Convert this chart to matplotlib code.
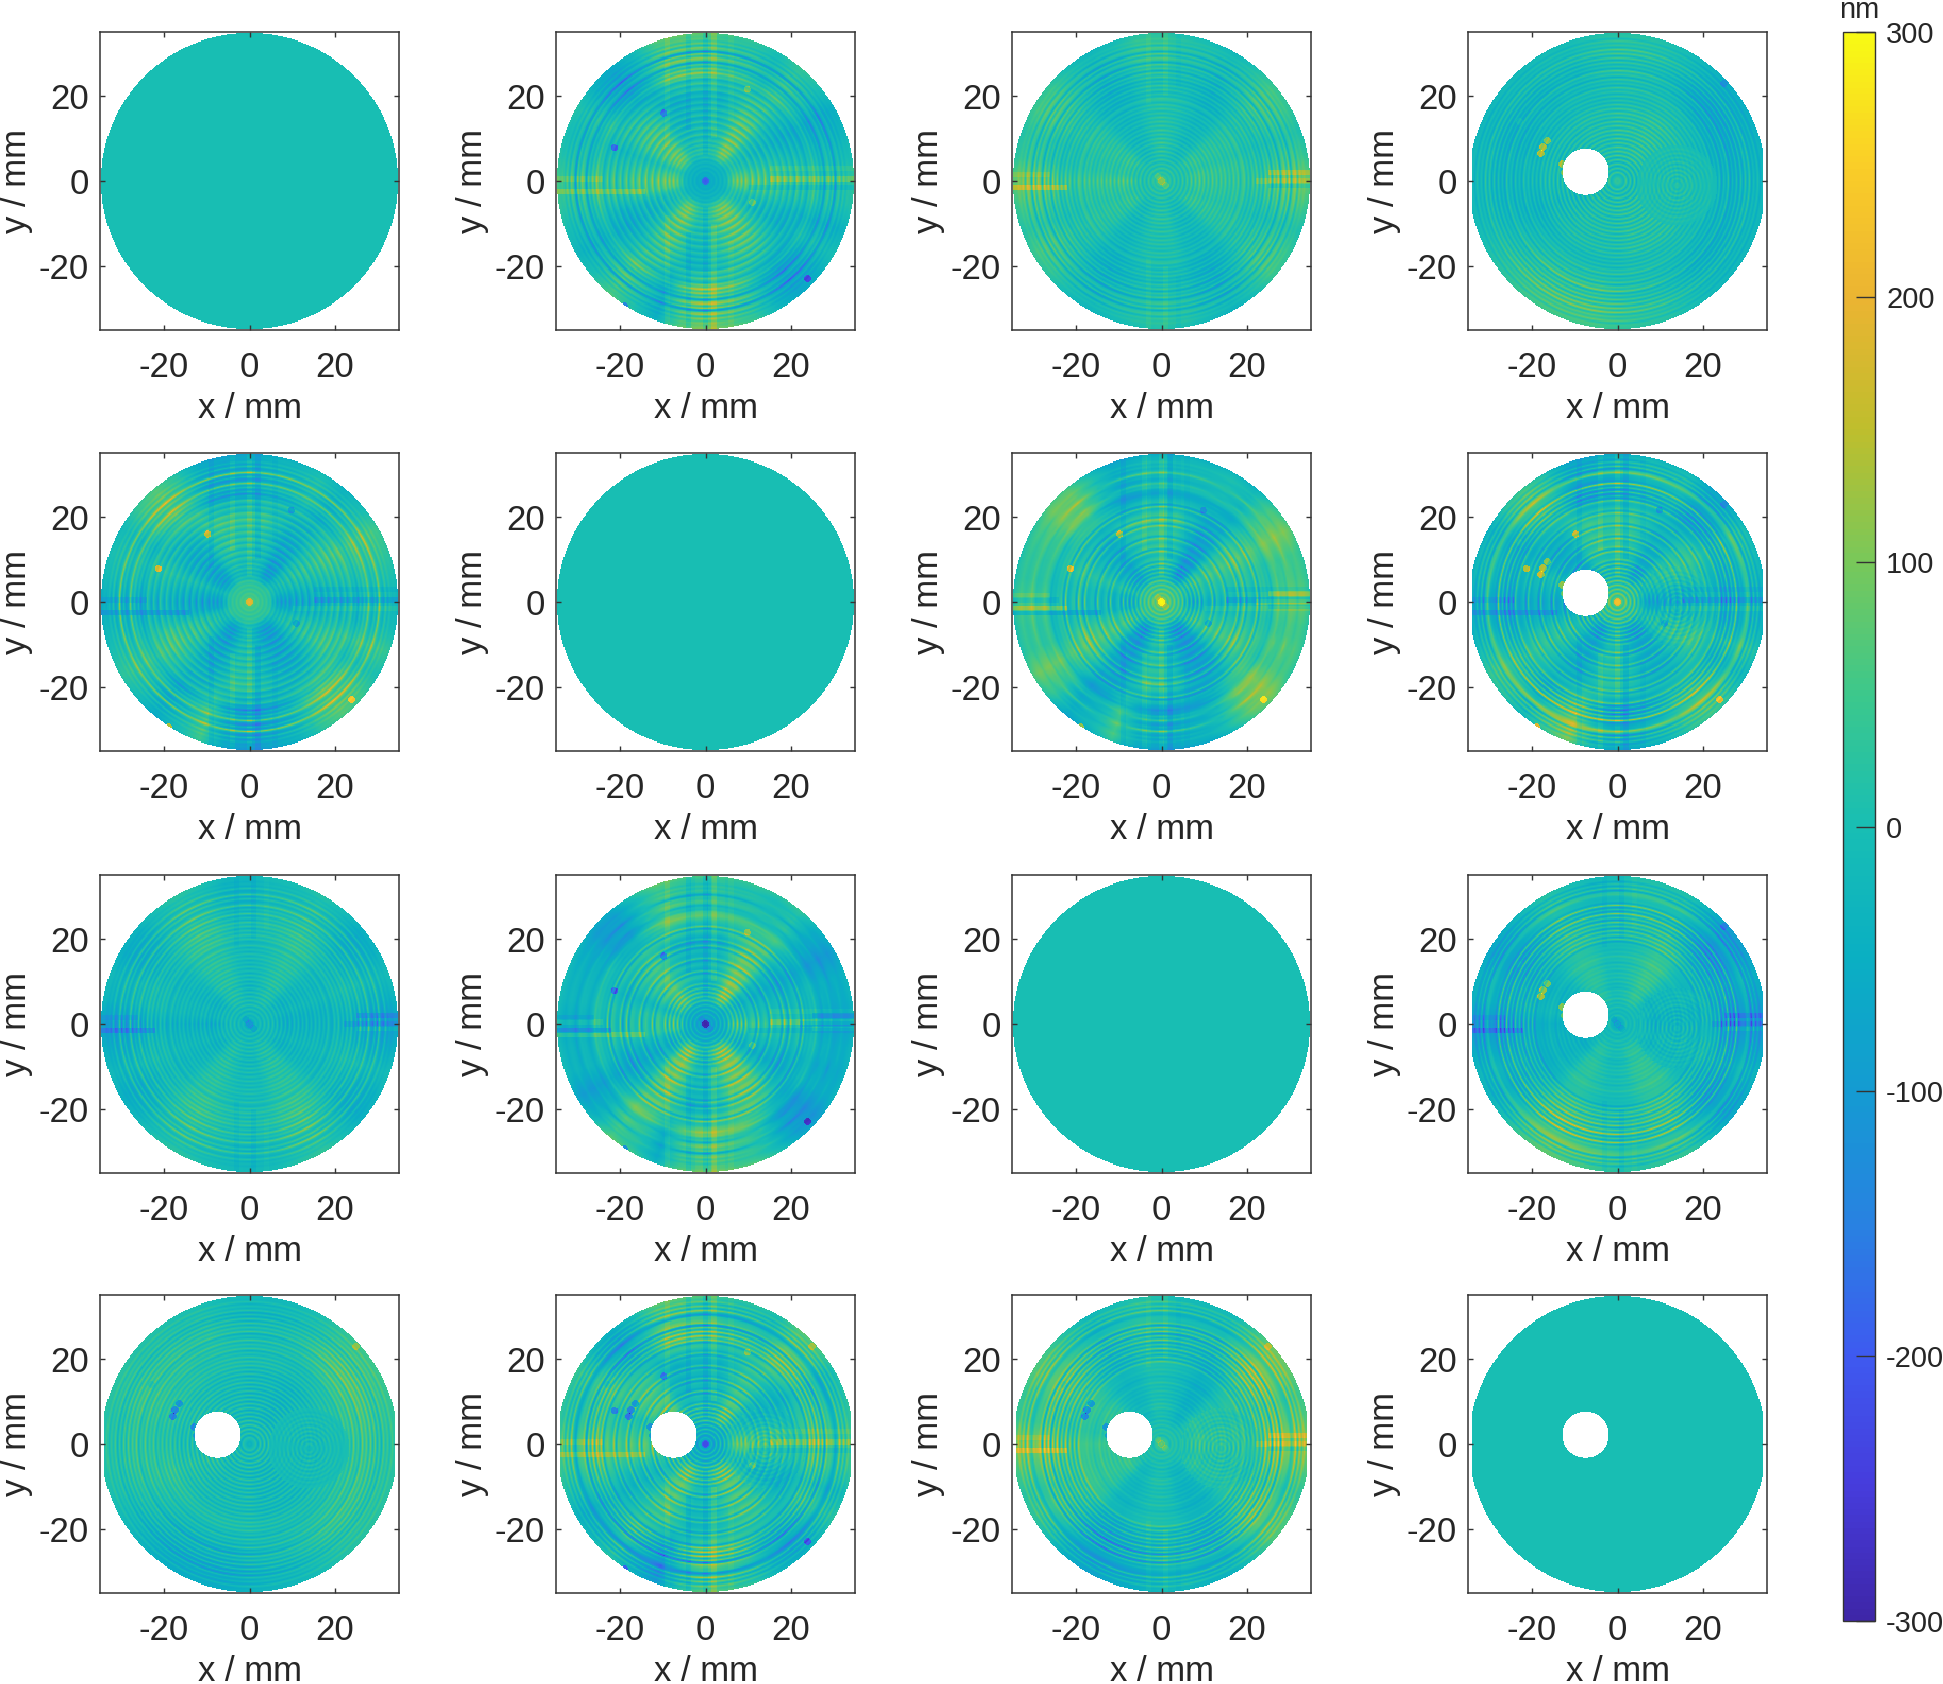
import numpy as np
import matplotlib
matplotlib.use("Agg")
import matplotlib.pyplot as plt
from matplotlib.colors import LinearSegmentedColormap

plt.rcParams['font.family'] = ['Liberation Sans', 'DejaVu Sans']
plt.rcParams['axes.unicode_minus'] = False

W, H = 1943, 1684

# colour table
CBAR_COLORS = [(62, 38, 168), (70, 60, 220), (62, 90, 240), (40, 130, 225), (20, 155, 210),
               (10, 175, 195), (24, 190, 180), (60, 200, 140), (120, 200, 90), (190, 190, 45),
               (235, 180, 50), (250, 205, 40), (248, 250, 20)]

TICKS = [-20, 0, 20]
CBAR_TICKS = [-300, -200, -100, 0, 100, 200, 300]

# radial profiles in nm, r = 0 ... 35 mm
RING_2 = [-75, -65, -45, -30, -40, -20, -35, -15, -30, -10, -25, 15, -5, 30, 5, 35, 0, 30, -5, 30, 10, -10, 35, 5,
          -15, 30, 0, -15, 30, -5, -20, 25, 5, -20, 20, 0, -25, 15, -5, -30, 10, -10, -35, 15, -5, -30, 10, -15,
          -35, 5, -10, 20, -20, 5, -30, -5, -60, -5, 10, -25, 5, -70, -10, 5, -30, 0, -20, -5, -10, -5, 0]
RING_3 = [30, 20, 35, 5, 25, -5, 30, -10, 25, -15, 25, -15, 20, -15, 25, -15, 20, -10, 25, -10, 20, -15, 15, -15,
          20, -10, 15, -15, 15, -10, 15, -15, 10, -15, 15, -10, 15, -20, 5, 15, -20, 5, -25, 10, -20, 15, -25, 5,
          -30, 15, -15, 20, -35, 15, -10, 25, -40, 10, 25, -15, 30, -35, 15, 25, -15, 20, 5, 15, 5, 5, 0]
RING_4 = [15, 25, 5, -15, 35, -25, 30, -30, 35, -30, 35, -30, 40, -25, 35, -20, 35, -25, 30, -25, 35, -25, 30, -20,
          35, -20, 30, -20, 30, -25, 25, -15, 30, -20, 25, -20, 20, -25, 10, -25, 15, -25, 10, -15, 20, -30, 5, -20,
          15, -35, 10, -15, 25, -35, 5, -25, 15, -30, 20, -25, 25, -15, 30, -20, 10, -10, 15, -15, 5, 0, 0]
RING_4_OFF = [5, 15, -10, 20, -15, 25, -15, 25, -15, 20, -15, 20, -10, 15, -10, 15, -5, 10, 0, 0]

# angular profiles in nm, one value every 10 degrees
SECTOR_IN_2 = [30, 15, -5, -20, -5, 30, 35, 5, -15, -10, -10, -20, -10, 20, 30, 20, -5, 15,
               30, 20, -15, -25, -5, 25, 35, 15, -10, -5, 5, 25, 35, 30, 5, -20, -10, 15]
SECTOR_OUT_2 = [25, 5, -10, -20, 10, 30, 5, 25, 30, 50, 55, 45, -5, -30, -15, 15, 5, 15,
                40, 25, 5, -10, 10, 45, 15, -20, 50, 75, 50, 30, -10, -30, -20, 5, -15, 15]
SECTOR_IN_3 = [20, 20, 10, 15, 10, -10, -15, -5, 5, 10, 5, -10, -15, -10, 10, 15, 10, 10,
               25, 15, 10, 15, 10, -10, -15, -5, 5, 5, 5, -10, -15, -10, 10, 15, 10, 15]
SECTOR_OUT_3 = [40, 15, 0, 15, 20, 0, -15, -5, 0, 10, 10, -10, -20, -5, 15, 20, 5, 10,
                40, 20, 5, 20, 10, -10, -20, -10, 0, 5, 0, -15, -25, -5, 20, 15, 0, 20]
SECTOR_IN_4 = [0, -5, -5, 0, 5, 10, 10, 5, 5, 5, 0, 0, 0, -5, -5, -10, -10, -5,
               -5, -10, -15, -10, -5, 0, 0, 0, 0, 0, 5, 5, 5, 5, 5, 0, 0, 0]
SECTOR_OUT_4 = [-15, -20, -25, -30, -30, -20, -5, 5, 10, 10, 5, -5, -5, -10, -10, -15, -15, -10,
                -10, -10, -5, 5, 15, 25, 30, 30, 30, 20, 15, 10, 0, -10, -15, -15, -15, -15]

# straight streaks: position, range, value in nm
V_X_2 = [-9, -4, 0, 2, 6]
V_LO_2 = [8, 12, 6, 10, 14]
V_VAL_2 = [25, -30, -35, 40, 15]
H_Y_2 = [-2.5, 0.5, 0.5, 3, -1.5]
H_X0_2 = [-35, -35, 15, 15, 10]
H_X1_2 = [-14, -24, 35, 35, 35]
H_VAL_2 = [60, 35, 55, 25, -30]

V_X_3 = [-3, 1, 4]
V_LO_3 = [18, 20, 22]
V_VAL_3 = [15, 20, -10]
H_Y_3 = [-1.5, 1.5, 0, 2, -1]
H_X0_3 = [-35, -35, 22, 25, 25]
H_X1_3 = [-22, -26, 35, 35, 35]
H_VAL_3 = [75, 30, 40, 60, -40]

# small spots: x, y, value in nm
SPOT_X_2 = [24, -21.4, -9.8, -19, 9.8, 11, 0]
SPOT_Y_2 = [-23, 7.8, 16, -29.4, 21.6, -5, 0]
SPOT_VAL_2 = [-170, -170, -150, -170, 90, 80, -90]
SPOT_X_3 = [0, -0.8, 1]
SPOT_Y_3 = [0, 1, -1]
SPOT_VAL_3 = [70, 40, 40]
SPOT_X_4 = [-18, -17.5, -16.5, -13, -12.5, -23, 25]
SPOT_Y_4 = [6.5, 8, 9.5, 4, 2, 14, 23]
SPOT_VAL_4 = [170, 160, 140, 130, 100, 30, -70]

# panel geometry, pixels
COL_LEFT = [100, 556, 1012, 1468]
ROW_TOP = [32, 453, 875, 1295]
PANEL_W = 299
PANEL_H = 298

grid = np.arange(-35, 35.01, 0.25)
xx, yy = np.meshgrid(grid, grid)
rr = np.hypot(xx, yy)
ang = np.degrees(np.arctan2(yy, xx)) % 360
sector_deg = np.arange(0, 360, 10)


def add_spots(z, sx, sy, val):
    for a, b, v in zip(sx, sy, val):
        z[np.hypot(xx - a, yy - b) < 0.8] += v


def add_streaks(z, vx, vlo, vval, hy, hx0, hx1, hval):
    for a, lo, v in zip(vx, vlo, vval):
        z[(np.abs(xx - a) < 0.7) & (np.abs(yy) > lo)] += v
    for b, x0, x1, v in zip(hy, hx0, hx1, hval):
        z[(np.abs(yy - b) < 0.7) & (xx > x0) & (xx < x1)] += v


def surface(ring, sec_in, sec_out):
    z = np.interp(rr, np.linspace(0, 35, len(ring)), ring)
    a = np.interp(ang, sector_deg, sec_in, period=360)
    b = np.interp(ang, sector_deg, sec_out, period=360)
    outer = np.clip((rr - 20) / 6, 0, 1)
    inner = np.clip((rr - 4) / 4, 0, 1)
    sec = a * inner * (1 - outer) + b * outer
    # rings show stronger inside the wedges
    return z * (1.5 + np.abs(sec) / 35) + sec * 1.7


s1 = np.zeros_like(xx)

s2 = surface(RING_2, SECTOR_IN_2, SECTOR_OUT_2)
add_streaks(s2, V_X_2, V_LO_2, V_VAL_2, H_Y_2, H_X0_2, H_X1_2, H_VAL_2)
add_spots(s2, SPOT_X_2, SPOT_Y_2, SPOT_VAL_2)

s3 = surface(RING_3, SECTOR_IN_3, SECTOR_OUT_3)
add_streaks(s3, V_X_3, V_LO_3, V_VAL_3, H_Y_3, H_X0_3, H_X1_3, H_VAL_3)
add_spots(s3, SPOT_X_3, SPOT_Y_3, SPOT_VAL_3)

s4 = surface(RING_4, SECTOR_IN_4, SECTOR_OUT_4)
off = np.hypot(xx - 14, yy + 1)
s4 = np.where(off < 9.5, s4 * 0.3 + np.interp(off, np.linspace(0, 9.5, len(RING_4_OFF)), RING_4_OFF) * 1.5, s4)
add_spots(s4, SPOT_X_4, SPOT_Y_4, SPOT_VAL_4)

surfaces = [s1, s2, s3, s4]

cmap = LinearSegmentedColormap.from_list("bar", [tuple(c / 255 for c in col) for col in CBAR_COLORS], N=256)

fig = plt.figure(figsize=(W / 100, H / 100), dpi=100)
im = None
for i in range(4):
    for j in range(4):
        ax = fig.add_axes([COL_LEFT[j] / W, 1 - (ROW_TOP[i] + PANEL_H) / H, PANEL_W / W, PANEL_H / H])
        z = surfaces[j] - surfaces[i]
        mask = rr > 34.9
        if i == 3 or j == 3:
            mask = mask | (np.hypot(xx + 7.5, yy - 2.2) < 5.5) | (np.abs(xx) > 34.2)
        z = np.ma.masked_where(mask, z)
        im = ax.imshow(z, cmap=cmap, vmin=-300, vmax=300, origin="lower", extent=(-35, 35, -35, 35),
                       interpolation="nearest", aspect="auto")
        ax.set_xticks(TICKS)
        ax.set_yticks(TICKS)
        ax.tick_params(direction="in", top=True, right=True, length=3.5, width=1, color="#333333",
                       labelsize=25, labelcolor="#262626", pad=15)
        ax.tick_params(axis="y", pad=8)
        ax.set_xlabel("x / mm", fontsize=25, color="#262626", va="center")
        ax.set_ylabel("y / mm", fontsize=25, color="#262626", va="center")
        ax.xaxis.set_label_coords(0.5, -0.262)
        ax.yaxis.set_label_coords(-0.278, 0.5)
        for sp in ax.spines.values():
            sp.set_linewidth(1.1)
            sp.set_color("#333333")

cax = fig.add_axes([1843 / W, 1 - 1621 / H, 32 / W, 1589 / H])
cb = fig.colorbar(im, cax=cax, ticks=CBAR_TICKS)
cb.ax.tick_params(direction="in", length=14, width=1, color="#333333", labelsize=21, labelcolor="#262626", pad=8)
cb.outline.set_linewidth(1)
cb.outline.set_edgecolor("#333333")
fig.text(1859 / W, 1 - 10 / H, "nm", fontsize=21, color="#262626", ha="center", va="center")

fig.savefig("out.png", dpi=100)
